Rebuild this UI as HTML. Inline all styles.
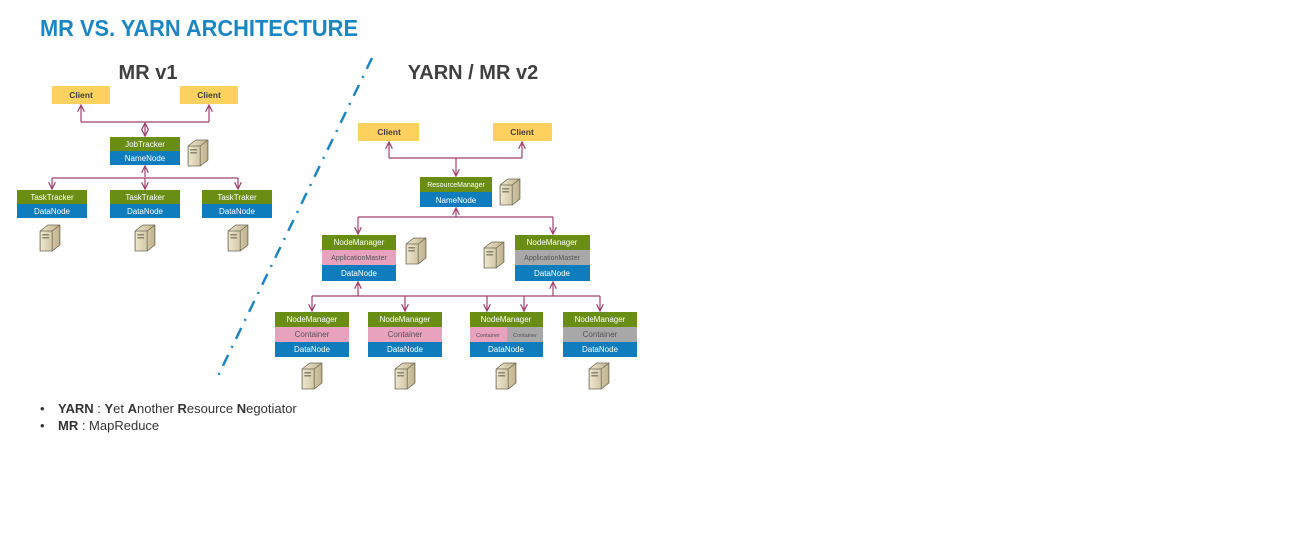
<!DOCTYPE html>
<html><head><meta charset="utf-8"><style>
body{margin:0;background:#fff;width:1316px;height:546px;overflow:hidden}
svg text{font-family:"Liberation Sans",sans-serif}
</style></head><body>
<svg width="1316" height="546" viewBox="0 0 1316 546" xmlns="http://www.w3.org/2000/svg">
<defs>
<linearGradient id="sg" x1="0" x2="1" y1="0" y2="0"><stop offset="0" stop-color="#efe8cf"/><stop offset="1" stop-color="#bfb18a"/></linearGradient>
<symbol id="srv" viewBox="0 0 20 28" preserveAspectRatio="none"><path d="M1 7 L8 1 L19 1 L19 21 L12 27 L1 27 Z" fill="url(#sg)" stroke="#6e6856" stroke-width="0.8"/><path d="M1 7 L12 7 L19 1 M12 7 L12 27" fill="none" stroke="#6e6856" stroke-width="0.7"/><rect x="3" y="10" width="6" height="1.5" fill="#8a8470"/><rect x="3" y="13" width="6" height="1.5" fill="#8a8470"/></symbol>
<marker id="ar" viewBox="0 0 10 10" refX="9" refY="5" markerWidth="7" markerHeight="7" orient="auto-start-reverse"><path d="M1 1 L9 5 L1 9" fill="none" stroke="#a0406e" stroke-width="1.5"/></marker>
</defs>
<text x="40" y="36" font-size="23" font-weight="bold" fill="#1b86c2" textLength="318" lengthAdjust="spacingAndGlyphs">MR VS. YARN ARCHITECTURE</text>
<text x="148" y="79" font-size="20" font-weight="bold" fill="#404040" text-anchor="middle">MR v1</text>
<text x="473" y="79" font-size="20" font-weight="bold" fill="#404040" text-anchor="middle">YARN / MR v2</text>
<line x1="372" y1="58" x2="217" y2="378" stroke="#1b86c2" stroke-width="2.5" stroke-dasharray="12,8,2,8"/>
<g stroke="#a0406e" stroke-width="1.2" fill="none">
<path d="M81 122 L81 105" marker-end="url(#ar)"/><path d="M209 122 L209 105" marker-end="url(#ar)"/>
<path d="M81 122 L209 122"/>
<path d="M145 123 L145 136" marker-start="url(#ar)" marker-end="url(#ar)"/>
<path d="M145 177 L145 166" marker-end="url(#ar)"/>
<path d="M52 178 L238 178"/>
<path d="M52 178 L52 189" marker-end="url(#ar)"/><path d="M145 178 L145 189" marker-end="url(#ar)"/><path d="M238 178 L238 189" marker-end="url(#ar)"/>
<path d="M389 158 L389 142" marker-end="url(#ar)"/><path d="M522 158 L522 142" marker-end="url(#ar)"/>
<path d="M389 158 L522 158"/>
<path d="M456 158 L456 176" marker-end="url(#ar)"/>
<path d="M456 217 L456 208" marker-end="url(#ar)"/>
<path d="M358 217 L553 217"/>
<path d="M358 217 L358 234" marker-end="url(#ar)"/><path d="M553 217 L553 234" marker-end="url(#ar)"/>
<path d="M358 296 L358 282" marker-end="url(#ar)"/><path d="M553 296 L553 282" marker-end="url(#ar)"/>
<path d="M312 296 L600 296"/>
<path d="M312 296 L312 311" marker-end="url(#ar)"/><path d="M405 296 L405 311" marker-end="url(#ar)"/><path d="M487 296 L487 311" marker-end="url(#ar)"/><path d="M524 296 L524 311" marker-end="url(#ar)"/><path d="M600 296 L600 311" marker-end="url(#ar)"/>
</g>
<g font-size="8.5" text-anchor="middle" font-weight="bold" fill="#404040">
<rect x="52" y="86" width="58" height="18" fill="#fdd15e"/><text x="81" y="98">Client</text>
<rect x="180" y="86" width="58" height="18" fill="#fdd15e"/><text x="209" y="98">Client</text>
<rect x="358" y="123" width="61" height="18" fill="#fdd15e"/><text x="389" y="135">Client</text>
<rect x="493" y="123" width="59" height="18" fill="#fdd15e"/><text x="522" y="135">Client</text>
</g>
<g font-size="8" text-anchor="middle" fill="#fff">
<rect x="110" y="137" width="70" height="14" fill="#6a8e14"/><text x="145" y="147">JobTracker</text>
<rect x="110" y="151" width="70" height="14" fill="#0f7dbd"/><text x="145" y="161">NameNode</text>
<rect x="17" y="190" width="70" height="14" fill="#6a8e14"/><text x="52" y="200">TaskTracker</text>
<rect x="17" y="204" width="70" height="14" fill="#0f7dbd"/><text x="52" y="214">DataNode</text>
<rect x="110" y="190" width="70" height="14" fill="#6a8e14"/><text x="145" y="200">TaskTraker</text>
<rect x="110" y="204" width="70" height="14" fill="#0f7dbd"/><text x="145" y="214">DataNode</text>
<rect x="202" y="190" width="70" height="14" fill="#6a8e14"/><text x="237" y="200">TaskTraker</text>
<rect x="202" y="204" width="70" height="14" fill="#0f7dbd"/><text x="237" y="214">DataNode</text>
<rect x="420" y="177" width="72" height="15" fill="#6a8e14"/><text x="456" y="187" font-size="7">ResourceManager</text>
<rect x="420" y="192" width="72" height="15" fill="#0f7dbd"/><text x="456" y="203">NameNode</text>
<rect x="322" y="235" width="74" height="15" fill="#6a8e14"/><text x="359" y="245">NodeManager</text>
<rect x="322" y="250" width="74" height="15" fill="#e8a2bd"/><text x="359" y="260" font-size="7" fill="#555">ApplicationMaster</text>
<rect x="322" y="265" width="74" height="16" fill="#0f7dbd"/><text x="359" y="276">DataNode</text>
<rect x="515" y="235" width="75" height="15" fill="#6a8e14"/><text x="552" y="245">NodeManager</text>
<rect x="515" y="250" width="75" height="15" fill="#a8a8a8"/><text x="552" y="260" font-size="7" fill="#555">ApplicationMaster</text>
<rect x="515" y="265" width="75" height="16" fill="#0f7dbd"/><text x="552" y="276">DataNode</text>
<rect x="275" y="312" width="74" height="15" fill="#6a8e14"/><text x="312" y="322">NodeManager</text>
<rect x="275" y="327" width="74" height="15" fill="#e8a2bd"/><text x="312" y="337" fill="#555">Container</text>
<rect x="275" y="342" width="74" height="15" fill="#0f7dbd"/><text x="312" y="352">DataNode</text>
<rect x="368" y="312" width="74" height="15" fill="#6a8e14"/><text x="405" y="322">NodeManager</text>
<rect x="368" y="327" width="74" height="15" fill="#e8a2bd"/><text x="405" y="337" fill="#555">Container</text>
<rect x="368" y="342" width="74" height="15" fill="#0f7dbd"/><text x="405" y="352">DataNode</text>
<rect x="470" y="312" width="73" height="15" fill="#6a8e14"/><text x="506" y="322">NodeManager</text>
<rect x="470" y="327" width="37" height="15" fill="#e8a2bd"/><text x="488" y="337" font-size="5.5" fill="#555">Container</text>
<rect x="507" y="327" width="36" height="15" fill="#a8a8a8"/><text x="525" y="337" font-size="5.5" fill="#555">Container</text>
<rect x="470" y="342" width="73" height="15" fill="#0f7dbd"/><text x="506" y="352">DataNode</text>
<rect x="563" y="312" width="74" height="15" fill="#6a8e14"/><text x="600" y="322">NodeManager</text>
<rect x="563" y="327" width="74" height="15" fill="#a8a8a8"/><text x="600" y="337" fill="#555">Container</text>
<rect x="563" y="342" width="74" height="15" fill="#0f7dbd"/><text x="600" y="352">DataNode</text>
</g>
<use href="#srv" x="187" y="139" width="22" height="28"/>
<use href="#srv" x="39" y="224" width="22" height="28"/>
<use href="#srv" x="134" y="224" width="22" height="28"/>
<use href="#srv" x="227" y="224" width="22" height="28"/>
<use href="#srv" x="499" y="178" width="22" height="28"/>
<use href="#srv" x="405" y="237" width="22" height="28"/>
<use href="#srv" x="483" y="241" width="22" height="28"/>
<use href="#srv" x="301" y="362" width="22" height="28"/>
<use href="#srv" x="394" y="362" width="22" height="28"/>
<use href="#srv" x="495" y="362" width="22" height="28"/>
<use href="#srv" x="588" y="362" width="22" height="28"/>
<g font-size="13" fill="#333">
<text x="40" y="413">•</text><text x="58" y="413"><tspan font-weight="bold">YARN</tspan> : <tspan font-weight="bold">Y</tspan>et <tspan font-weight="bold">A</tspan>nother <tspan font-weight="bold">R</tspan>esource <tspan font-weight="bold">N</tspan>egotiator</text>
<text x="40" y="430">•</text><text x="58" y="430"><tspan font-weight="bold">MR</tspan> : MapReduce</text>
</g>
</svg>
</body></html>
